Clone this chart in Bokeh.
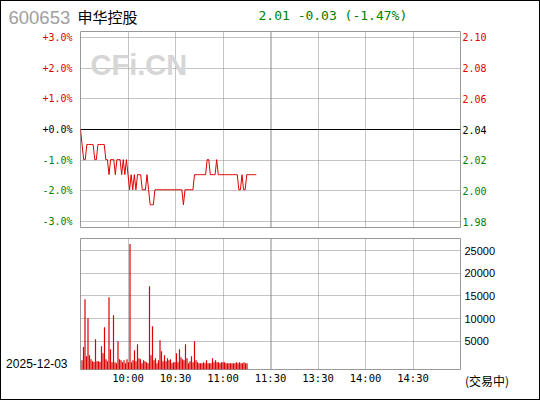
import numpy as np
from bokeh.plotting import figure
from bokeh.models import (ColumnDataSource, Range1d, FixedTicker, LabelSet, Label,
                          Span, Grid, Spacer)
from bokeh.layouts import column, row
from bokeh.core.properties import value
from bokeh.embed import file_html
from bokeh.resources import INLINE

# ---------------- data ----------------
STOCK_CODE = "600653"
STOCK_NAME = "申华控股"
TRADE_DATE = "2025-12-03"
STATUS = "(交易中)"
PREV_CLOSE = 2.04
LAST_PRICE = 2.01

# last price per minute from 09:30
PRICE = [2.04, 2.03, 2.02, 2.02, 2.03, 2.03, 2.03, 2.03, 2.03, 2.02,
         2.02, 2.03, 2.03, 2.03, 2.03, 2.03, 2.02, 2.02, 2.01, 2.02,
         2.02, 2.02, 2.01, 2.02, 2.02, 2.02, 2.01, 2.02, 2.01, 2.02,
         2.01, 2.00, 2.01, 2.00, 2.01, 2.00, 2.01, 2.01, 2.01, 2.00,
         2.00, 2.00, 2.01, 2.00, 1.99, 1.99, 1.99, 2.00, 2.00, 2.00,
         2.00, 2.00, 2.00, 2.00, 2.00, 2.00, 2.00, 2.00, 2.00, 2.00,
         2.00, 2.00, 2.00, 2.00, 2.00, 1.99, 2.00, 2.00, 2.00, 2.00,
         2.00, 2.00, 2.01, 2.01, 2.01, 2.01, 2.01, 2.01, 2.01, 2.01,
         2.02, 2.02, 2.01, 2.01, 2.01, 2.01, 2.02, 2.01, 2.01, 2.01,
         2.01, 2.01, 2.01, 2.01, 2.01, 2.01, 2.01, 2.01, 2.01, 2.01,
         2.00, 2.00, 2.01, 2.00, 2.00, 2.01, 2.01, 2.01, 2.01, 2.01,
         2.01, 2.01]

# volume per minute (shares)
VOLUME = [800, 3700, 14300, 1700, 10100, 1900, 1000, 600, 430, 5440,
          575, 575, 430, 3900, 2350, 8100, 1000, 575, 14700, 3230,
          350, 10750, 350, 130, 5000, 1000, 800, 350, 800, 130,
          1000, 350, 26460, 350, 800, 3000, 575, 4340, 1240, 1000,
          130, 800, 575, 350, 130, 17170, 1900, 8320, 800, 1240,
          130, 800, 5220, 2790, 575, 1900, 575, 1240, 800, 1000,
          130, 350, 350, 2350, 350, 3230, 1460, 1000, 800, 4340,
          1240, 130, 600, 1700, 350, 5000, 800, 350, 130, 130,
          130, 350, 130, 800, 130, 130, 130, 1240, 350, 800,
          350, 350, 130, 350, 350, 350, 130, 130, 130, 130,
          130, 130, 130, 350, 130, 350, 130, 130, 350, 130,
          130]

PCT_TICKS = [3, 2, 1, 0, -1, -2, -3]
PCT_LABELS = ["+3.0%", "+2.0%", "+1.0%", "+0.0%", "-1.0%", "-2.0%", "-3.0%"]
PRICE_LABELS = ["2.10", "2.08", "2.06", "2.04", "2.02", "2.00", "1.98"]
TIME_TICKS = [30, 60, 90, 120, 150, 180, 210]
TIME_LABELS = ["10:00", "10:30", "11:00", "11:30", "13:30", "14:00", "14:30"]
VOL_TICKS = [5000, 10000, 15000, 20000, 25000]
VOL_LABELS = ["5000", "10000", "15000", "20000", "25000"]
SESSION_MINUTES = 240
MIDDAY = 120

# ---------------- style / layout ----------------
RED = "#dd0000"
GREEN = "#008000"
GRID = "#888888"
OUTLINE = "#999999"
MONO = "DejaVu Sans Mono"
SANS = "Liberation Sans"
CJK = "Noto Sans CJK SC"

TOTAL_W, TOTAL_H = 540, 400
BORDER = 1
SIDE_W = 78          # label columns
MAIN_W = 382         # frame 380 + 1px border each side
INNER_W = TOTAL_W - 2 * BORDER
HEAD_H = 29
P_H = 198            # price frame 196 + 1 + 1
V_TOP, V_BOTTOM = 10, 30
V_H = TOTAL_H - 2 * BORDER - HEAD_H - P_H
V_FRAME_H = V_H - V_TOP - V_BOTTOM
FRAME_W = MAIN_W - 2
PCT_SPAN = 3.19
VOL_MIN, VOL_MAX = -1250, 27700
BAR_STEP_PX = 1.5
STATUS_X = 25.5      # centre of the status text in the right column


def tick_color(t):
    return RED if t > 0 else ("black" if t == 0 else GREEN)


def side_fig(w, h, xr, yr, top=0, bottom=0, xloc=None):
    f = figure(width=w, height=h, output_backend="svg", toolbar_location=None,
               x_range=xr, y_range=yr,
               x_axis_location=xloc, y_axis_location=None,
               min_border_left=0, min_border_right=0,
               min_border_top=top, min_border_bottom=bottom)
    f.outline_line_color = None
    for g in f.grid:
        g.visible = False
    f.background_fill_color = "white"
    f.border_fill_color = "white"
    return f


def style_xaxis(ax, ticks, labels, font, size):
    ax.ticker = FixedTicker(ticks=ticks)
    ax.major_label_overrides = {t: s for t, s in zip(ticks, labels)}
    ax.axis_line_color = None
    ax.major_tick_line_color = None
    ax.minor_tick_line_color = None
    ax.major_tick_out = 0
    ax.major_tick_in = 0
    ax.major_label_standoff = 2
    ax.major_label_text_font = font
    ax.major_label_text_font_size = size
    ax.major_label_text_color = "black"


pct_range = Range1d(-PCT_SPAN, PCT_SPAN)
time_range = Range1d(0, SESSION_MINUTES)
vol_range = Range1d(VOL_MIN, VOL_MAX)
one_px_min = SESSION_MINUTES / FRAME_W
grid_times = TIME_TICKS + [MIDDAY + one_px_min]

# ---------------- header ----------------
head = side_fig(INNER_W, HEAD_H, Range1d(BORDER, BORDER + INNER_W),
                Range1d(BORDER + HEAD_H, BORDER))
chg = LAST_PRICE - PREV_CLOSE
header = f"{LAST_PRICE:.2f} {chg:+.2f} ({chg / PREV_CLOSE * 100:+.2f}%)"
head.add_layout(Label(x=8, y=17, text=STOCK_CODE, text_font=SANS, text_font_size="18.5px",
                      text_color="#a0a0a0", text_baseline="middle", text_align="left"))
head.add_layout(Label(x=77, y=15.5, text=STOCK_NAME, text_font=CJK, text_font_size="15px",
                      text_color="black", text_baseline="middle", text_align="left"))
head.add_layout(Label(x=258, y=15, text=header, text_font=MONO, text_font_size="13px",
                      text_color=GREEN, text_baseline="middle", text_align="left"))

# ---------------- price panel ----------------
pf = figure(width=MAIN_W, height=P_H, output_backend="svg", toolbar_location=None,
            x_range=time_range, y_range=pct_range,
            x_axis_location=None, y_axis_location=None,
            min_border_left=1, min_border_right=1, min_border_top=1, min_border_bottom=1)
pf.outline_line_color = OUTLINE
for g in pf.grid:
    g.visible = False
pf.add_layout(Label(x=0, y=PCT_SPAN, x_offset=10, y_offset=-33, text="CFi.CN",
                    text_font=SANS, text_font_style="bold", text_font_size="29px",
                    text_color="#d6d6d6", text_baseline="middle", text_align="left"))
pf.add_layout(Grid(dimension=0, ticker=FixedTicker(ticks=grid_times),
                   grid_line_color=GRID, grid_line_dash="1 1"))
pf.add_layout(Grid(dimension=1, ticker=FixedTicker(ticks=[t for t in PCT_TICKS if t != 0]),
                   grid_line_color=GRID, grid_line_dash="1 1"))
pf.add_layout(Span(location=0, dimension="width", line_color="black", line_width=1))

minutes = np.arange(len(PRICE))
pct = (np.array(PRICE) - PREV_CLOSE) / PREV_CLOSE * 100
pf.line(minutes, pct, line_color=RED, line_width=1)

colors = [tick_color(t) for t in PCT_TICKS]
pl = side_fig(SIDE_W, P_H, Range1d(BORDER, BORDER + SIDE_W), pct_range, 1, 1)
pl.add_layout(LabelSet(x="x", y="y", text="text", text_color="color",
                       source=ColumnDataSource(dict(x=[72] * len(PCT_TICKS), y=PCT_TICKS,
                                                    text=PCT_LABELS, color=colors)),
                       text_align="right", text_baseline="middle",
                       text_font=value(MONO), text_font_size=value("10px")))
pr = side_fig(SIDE_W, P_H, Range1d(0, SIDE_W), pct_range, 1, 1)
pr.add_layout(LabelSet(x="x", y="y", text="text", text_color="color",
                       source=ColumnDataSource(dict(x=[1] * len(PCT_TICKS), y=PCT_TICKS,
                                                    text=PRICE_LABELS, color=colors)),
                       text_align="left", text_baseline="middle",
                       text_font=value(MONO), text_font_size=value("10px")))

# ---------------- volume panel ----------------
vf = figure(width=MAIN_W, height=V_H, output_backend="svg", toolbar_location=None,
            x_range=time_range, y_range=vol_range,
            x_axis_location="below", y_axis_location=None,
            min_border_left=1, min_border_right=1,
            min_border_top=V_TOP, min_border_bottom=V_BOTTOM)
vf.outline_line_color = OUTLINE
vf.extra_x_ranges = {"bars": Range1d(0, FRAME_W / BAR_STEP_PX)}
for g in vf.grid:
    g.visible = False
vf.add_layout(Grid(dimension=0, ticker=FixedTicker(ticks=grid_times),
                   grid_line_color=GRID, grid_line_dash="1 1"))
vf.add_layout(Grid(dimension=1, ticker=FixedTicker(ticks=VOL_TICKS),
                   grid_line_color=GRID, grid_line_dash="1 1"))

bar_x = np.arange(1, len(VOLUME) + 1)
vf.vbar(x=bar_x, top=VOLUME, bottom=VOL_MIN, width=0.8, x_range_name="bars",
        fill_color=RED, line_color=None)
style_xaxis(vf.xaxis[0], TIME_TICKS, TIME_LABELS, MONO, "10.5px")

units_per_px = (VOL_MAX - VOL_MIN) / V_FRAME_H
vl = side_fig(SIDE_W, V_H, Range1d(BORDER, BORDER + SIDE_W), vol_range, V_TOP, V_BOTTOM)
vl.add_layout(Label(x=67, y=VOL_MIN + 6 * units_per_px, text=TRADE_DATE, text_font=SANS,
                    text_font_size="12px", text_color="black",
                    text_baseline="middle", text_align="right"))
vr = side_fig(SIDE_W, V_H, Range1d(0, SIDE_W), vol_range, V_TOP, V_BOTTOM, xloc="below")
vr.add_layout(LabelSet(x="x", y="y", text="text",
                       source=ColumnDataSource(dict(x=[3] * len(VOL_TICKS), y=VOL_TICKS,
                                                    text=VOL_LABELS)),
                       text_align="left", text_baseline="middle", text_color="black",
                       text_font=value(SANS), text_font_size=value("11px")))
style_xaxis(vr.xaxis[0], [STATUS_X], [STATUS], CJK, "12px")

# ---------------- outer black frame ----------------
def strip(w, h):
    return Spacer(width=w, height=h, margin=0, styles={"background-color": "black"})


inner = column(head, row(pl, pf, pr, spacing=0), row(vl, vf, vr, spacing=0), spacing=0)
layout = column(strip(TOTAL_W, BORDER),
                row(strip(BORDER, TOTAL_H - 2 * BORDER), inner,
                    strip(BORDER, TOTAL_H - 2 * BORDER), spacing=0),
                strip(TOTAL_W, BORDER), spacing=0)

open("out.html", "w").write(file_html(layout, INLINE))
